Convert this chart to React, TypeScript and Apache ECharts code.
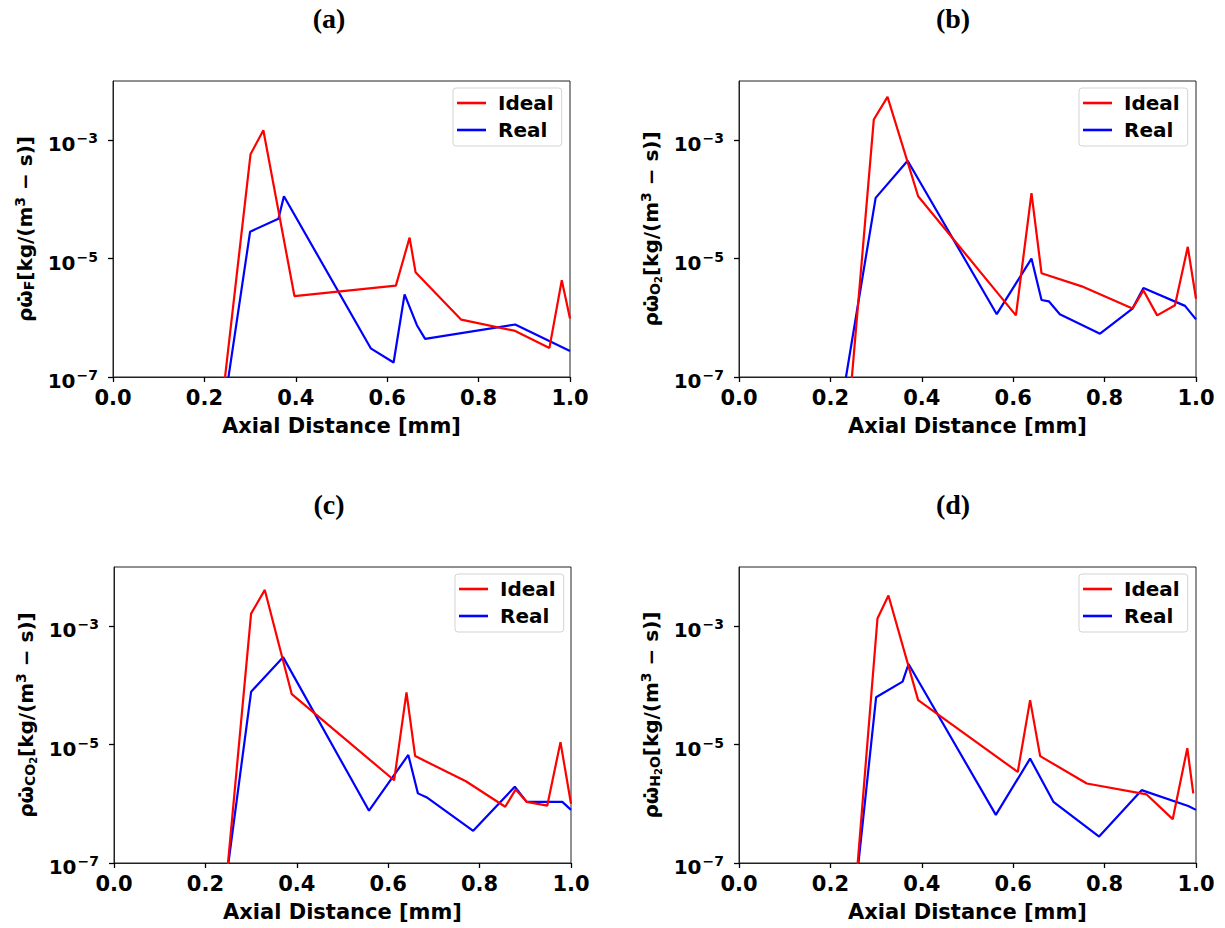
import React, { useEffect, useRef } from "react";
import * as echarts from "echarts";

// ---------- data ----------
const xTickValues = [0, 0.2, 0.4, 0.6, 0.8, 1.0];
const yTickValues = [1e-7, 1e-5, 1e-3];
const panelTitles = ["(a)", "(b)", "(c)", "(d)"];
const seriesNames = ["Ideal", "Real"];

const xA_ideal = [0.22, 0.301, 0.329, 0.397, 0.619, 0.649, 0.662, 0.762, 0.88, 0.955, 0.982, 1.0];
const yA_ideal = [2e-9, 5.8e-4, 1.47e-3, 2.33e-6, 3.5e-6, 2.26e-5, 5.9e-6, 9.3e-7, 6.0e-7, 3.1e-7, 4.3e-6, 9.7e-7];
const xA_real = [0.22, 0.3, 0.362, 0.374, 0.564, 0.614, 0.638, 0.665, 0.683, 0.88, 1.0];
const yA_real = [2e-9, 2.85e-5, 4.7e-5, 1.13e-4, 3.05e-7, 1.76e-7, 2.48e-6, 7.5e-7, 4.4e-7, 7.7e-7, 2.76e-7];

const xB_ideal = [0.22, 0.295, 0.325, 0.392, 0.606, 0.64, 0.662, 0.75, 0.861, 0.885, 0.915, 0.954, 0.982, 1.0];
const yB_ideal = [3.5e-10, 2.24e-3, 5.4e-3, 1.13e-4, 1.1e-6, 1.28e-4, 5.65e-6, 3.4e-6, 1.43e-6, 2.9e-6, 1.1e-6, 1.63e-6, 1.58e-5, 2.1e-6];
const xB_real = [0.22, 0.299, 0.369, 0.564, 0.64, 0.662, 0.678, 0.702, 0.79, 0.861, 0.885, 0.976, 1.0];
const yB_real = [2.2e-8, 1.06e-4, 4.5e-4, 1.15e-6, 1.0e-5, 2.0e-6, 1.9e-6, 1.15e-6, 5.4e-7, 1.43e-6, 3.2e-6, 1.59e-6, 9.4e-7];

const xC_ideal = [0.22, 0.3, 0.33, 0.389, 0.613, 0.64, 0.659, 0.77, 0.856, 0.879, 0.903, 0.948, 0.977, 1.0];
const yC_ideal = [3.5e-10, 1.63e-3, 4.1e-3, 7.1e-5, 2.5e-6, 7.6e-5, 6.4e-6, 2.4e-6, 8.9e-7, 1.75e-6, 1.08e-6, 9.3e-7, 1.1e-5, 1.0e-6];
const xC_real = [0.22, 0.3, 0.37, 0.558, 0.644, 0.665, 0.686, 0.786, 0.877, 0.903, 0.981, 1.0];
const yC_real = [1.7e-9, 7.8e-5, 3.0e-4, 7.65e-7, 6.7e-6, 1.5e-6, 1.26e-6, 3.5e-7, 1.94e-6, 1.08e-6, 1.08e-6, 7.9e-7];

const xD_ideal = [0.22, 0.303, 0.327, 0.392, 0.61, 0.637, 0.659, 0.761, 0.892, 0.949, 0.981, 0.994];
const yD_ideal = [1.6e-11, 1.35e-3, 3.3e-3, 5.65e-5, 3.45e-6, 5.65e-5, 6.4e-6, 2.2e-6, 1.44e-6, 5.5e-7, 8.7e-6, 1.5e-6];
const xD_real = [0.22, 0.3, 0.358, 0.371, 0.562, 0.637, 0.688, 0.788, 0.881, 0.983, 1.0];
const yD_real = [1e-10, 6.3e-5, 1.16e-4, 2.3e-4, 6.5e-7, 5.8e-6, 1.08e-6, 2.8e-7, 1.7e-6, 9.2e-7, 7.9e-7];

// y-axis names as rich text (species subscripts)
const yNames = [
  "{b|ρω̇}{sub|F}{b|[kg/(m}{sup|3}{b| − s)]}",
  "{b|ρω̇}{sub|O}{ss|2}{b|[kg/(m}{sup|3}{b| − s)]}",
  "{b|ρω̇}{sub|CO}{ss|2}{b|[kg/(m}{sup|3}{b| − s)]}",
  "{b|ρω̇}{sub|H}{ss|2}{sub|O}{b|[kg/(m}{sup|3}{b| − s)]}",
];

const panelData = [
  [[xA_ideal, yA_ideal], [xA_real, yA_real]],
  [[xB_ideal, yB_ideal], [xB_real, yB_real]],
  [[xC_ideal, yC_ideal], [xC_real, yC_real]],
  [[xD_ideal, yD_ideal], [xD_real, yD_real]],
];

// ---------- layout ----------
const grids = [
  { left: 113, top: 81, width: 457, height: 296 },
  { left: 739, top: 81, width: 457, height: 296 },
  { left: 114, top: 567, width: 457, height: 296 },
  { left: 739, top: 567, width: 457, height: 296 },
];
const titlePos = [
  [329, 18],
  [953, 18],
  [329, 504],
  [953, 504],
];
const legendPos = [
  [453, 88],
  [1079, 88],
  [455, 574],
  [1079, 574],
];
const colors = ["#ff0000", "#0000ff"];
const FONT = "DejaVu Sans";

const zip = (xs: number[], ys: number[]) => xs.map((x, i) => [x, ys[i]]);

function buildOption() {
  const option: any = {
    animation: false,
    backgroundColor: "#ffffff",
    textStyle: { fontFamily: FONT },
    grid: grids.map((g) => ({
      ...g,
      show: true,
      borderColor: "#222",
      borderWidth: 1,
      containLabel: false,
    })),
    xAxis: grids.map((_, i) => ({
      type: "value",
      gridIndex: i,
      min: 0,
      max: 1,
      interval: 0.2,
      name: "Axial Distance [mm]",
      nameLocation: "middle",
      nameGap: 38,
      nameTextStyle: { fontFamily: FONT, fontWeight: "bold", fontSize: 21, color: "#000" },
      axisLine: { show: true, lineStyle: { color: "#222", width: 1 } },
      axisTick: { show: true, length: 5, lineStyle: { color: "#000", width: 1.3 } },
      axisLabel: {
        margin: 10,
        fontFamily: FONT,
        fontWeight: "bold",
        fontSize: 21,
        color: "#000",
        formatter: (v: number) => v.toFixed(1),
        customValues: xTickValues,
      },
      splitLine: { show: false },
    })),
    yAxis: grids.map((_, i) => ({
      type: "log",
      logBase: 10,
      gridIndex: i,
      min: 1e-7,
      max: 1e-2,
      name: yNames[i],
      nameLocation: "middle",
      nameRotate: 90,
      nameGap: 76,
      nameTextStyle: {
        color: "#000",
        fontFamily: FONT,
        fontWeight: "bold",
        fontSize: 20,
        rich: {
          b: { fontFamily: FONT, fontWeight: "bold", fontSize: 20, color: "#000" },
          sub: { fontFamily: FONT, fontWeight: "bold", fontSize: 14, color: "#000", padding: [8, 0, 0, 0] },
          ss: { fontFamily: FONT, fontWeight: "bold", fontSize: 10, color: "#000", padding: [14, 0, 0, 0] },
          sup: { fontFamily: FONT, fontWeight: "bold", fontSize: 14, color: "#000", padding: [0, 0, 10, 0] },
        },
      },
      axisLine: { show: true, lineStyle: { color: "#222", width: 1 } },
      axisTick: { show: true, length: 5, lineStyle: { color: "#000", width: 1.3 }, customValues: yTickValues },
      minorTick: { show: false },
      axisLabel: {
        margin: 15,
        color: "#000",
        fontFamily: FONT,
        fontWeight: "bold",
        fontSize: 20,
        customValues: yTickValues,
        formatter: (v: number) => "{b|10}{sup|−" + Math.round(-Math.log10(v)) + "}",
        rich: {
          b: { fontFamily: FONT, fontWeight: "bold", fontSize: 20, color: "#000", padding: [8, 0, 0, 0] },
          sup: { fontFamily: FONT, fontWeight: "bold", fontSize: 14, color: "#000", padding: [0, 0, 4, 1] },
        },
      },
      splitLine: { show: false },
    })),
    legend: legendPos.map(([l, t]) => ({
      left: l,
      top: t,
      orient: "vertical",
      data: seriesNames,
      icon: "rect",
      itemWidth: 29,
      itemHeight: 2.6,
      itemGap: 7,
      padding: [5, 8, 6, 4],
      backgroundColor: "#fff",
      borderColor: "#d3d3d3",
      borderWidth: 1,
      borderRadius: 3,
      selectedMode: false,
      textStyle: {
        fontFamily: FONT,
        fontWeight: "bold",
        fontSize: 20,
        color: "#000",
        padding: [0, 0, 0, 7],
      },
    })),
    graphic: panelTitles.map((t, i) => ({
      type: "text",
      x: titlePos[i][0],
      y: titlePos[i][1],
      style: {
        text: t,
        fill: "#000",
        font: "bold 28px 'Liberation Serif', 'Times New Roman', serif",
        textAlign: "center",
        textVerticalAlign: "middle",
      },
    })),
    series: [] as any[],
  };
  panelData.forEach((pairs, pi) => {
    pairs.forEach(([xs, ys], si) => {
      option.series.push({
        type: "line",
        name: seriesNames[si],
        xAxisIndex: pi,
        yAxisIndex: pi,
        data: zip(xs, ys),
        symbol: "none",
        clip: true,
        lineStyle: { color: colors[si], width: 2.2 },
        itemStyle: { color: colors[si] },
        z: si === 0 ? 3 : 2,
      });
    });
  });
  return option;
}

export default function App() {
  const ref = useRef<HTMLDivElement>(null);
  useEffect(() => {
    if (!ref.current) return;
    const chart = echarts.init(ref.current, undefined, { renderer: "svg" });
    chart.setOption(buildOption());
    return () => chart.dispose();
  }, []);
  return (
    <div
      ref={ref}
      style={{ position: "fixed", left: 0, top: 0, width: 1225, height: 928, background: "#fff" }}
    />
  );
}
